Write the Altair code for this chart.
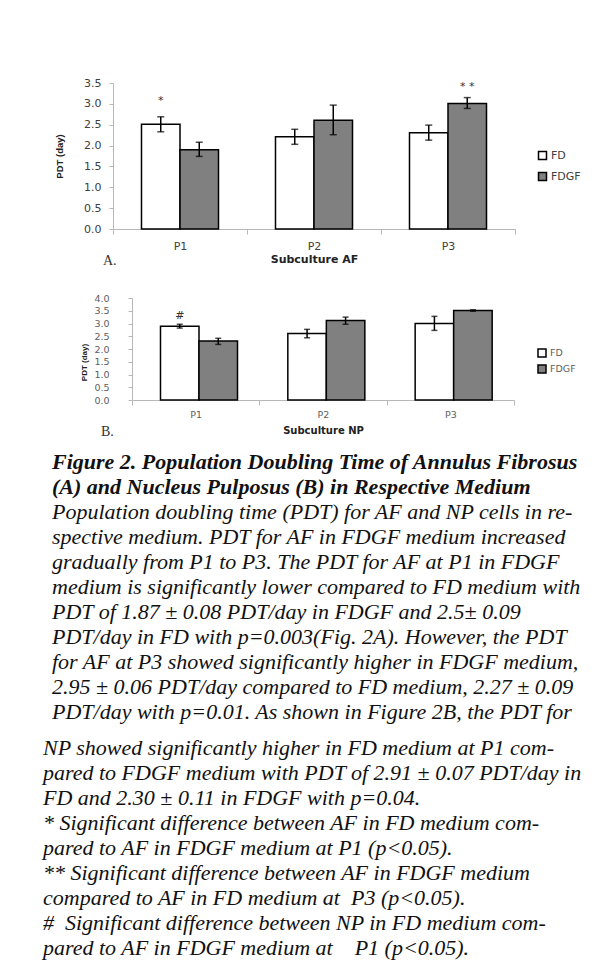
import altair as alt
import pandas as pd

# ---------------- data ----------------
passages = ["P1", "P2", "P3"]
media = ["FD", "FDGF"]

# Panel A: Annulus Fibrosus
af_fd = [2.51, 2.21, 2.31]
af_fd_lo = [2.33, 2.03, 2.13]
af_fd_hi = [2.69, 2.39, 2.49]
af_fdgf = [1.90, 2.61, 3.01]
af_fdgf_lo = [1.74, 2.26, 2.89]
af_fdgf_hi = [2.08, 2.97, 3.15]

# Panel B: Nucleus Pulposus
np_fd = [2.89, 2.61, 3.00]
np_fd_lo = [2.82, 2.44, 2.73]
np_fd_hi = [2.97, 2.77, 3.28]
np_fdgf = [2.31, 3.12, 3.51]
np_fdgf_lo = [2.18, 2.97, 3.48]
np_fdgf_hi = [2.42, 3.25, 3.54]

# significance marks: passage, medium, label, value-level
af_marks = [("P1", "FD", "*", 3.07), ("P3", "FDGF", "* *", 3.41)]
np_marks = [("P1", "FD", "#", 3.28)]

a_ticks = [0.0, 0.5, 1.0, 1.5, 2.0, 2.5, 3.0, 3.5]
b_ticks = [0.0, 0.5, 1.0, 1.5, 2.0, 2.5, 3.0, 3.5, 4.0]

NB = "\u00a0"
caption_title = [
    "Figure 2. Population Doubling Time of Annulus Fibrosus",
    "(A) and Nucleus Pulposus (B) in Respective Medium",
]
caption_body1 = [
    "Population doubling time (PDT) for AF and NP cells in re-",
    "spective medium. PDT for AF in FDGF medium increased",
    "gradually from P1 to P3. The PDT for AF at P1 in FDGF",
    "medium is significantly lower compared to FD medium with",
    "PDT of 1.87 \u00b1 0.08 PDT/day in FDGF and 2.5\u00b1 0.09",
    "PDT/day in FD with p=0.003(Fig. 2A). However, the PDT",
    "for AF at P3 showed significantly higher in FDGF medium,",
    "2.95 \u00b1 0.06 PDT/day compared to FD medium, 2.27 \u00b1 0.09",
    "PDT/day with p=0.01. As shown in Figure 2B, the PDT for",
]
caption_body2 = [
    "NP showed significantly higher in FD medium at P1 com-",
    "pared to FDGF medium with PDT of 2.91 \u00b1 0.07 PDT/day in",
    "FD and 2.30 \u00b1 0.11 in FDGF with p=0.04.",
    "* Significant difference between AF in FD medium com-",
    "pared to AF in FDGF medium at P1 (p<0.05).",
    "**" + NB + "Significant difference between AF in FDGF medium",
    "compared to AF in FD medium at" + NB + NB + "P3 (p<0.05).",
    "#" + NB + NB + "Significant difference between NP in FD medium com-",
    "pared to AF in FDGF medium at" + NB * 4 + "P1 (p<0.05).",
]


def make_df(fd, fd_lo, fd_hi, fdgf, fdgf_lo, fdgf_hi):
    rows = []
    for i, p in enumerate(passages):
        rows.append({"passage": p, "medium": "FD", "value": fd[i], "lo": fd_lo[i], "hi": fd_hi[i]})
        rows.append({"passage": p, "medium": "FDGF", "value": fdgf[i], "lo": fdgf_lo[i], "hi": fdgf_hi[i]})
    return pd.DataFrame(rows)


def panel(df, marks, ymax, ticks, w, h, xrange, yoffset, xtitle, letter, letter_xy, leg_xy,
          lab_font, lab_color, lab_pad, ytitle_size, ytitle_pad, ytitle_y,
          xlab_pad, xtitle_size, xtitle_pad, leg_rowpad, leg_font, cap):
    x = alt.X("passage:N", sort=passages,
              scale=alt.Scale(paddingInner=0, paddingOuter=0, range=xrange),
              axis=alt.Axis(title=xtitle, tickBand="extent", labelAngle=0,
                            labelFont="DejaVu Sans", labelFontSize=lab_font,
                            labelColor=lab_color, labelPadding=xlab_pad,
                            tickSize=5, tickColor="#b8b8b8", domainColor="#b8b8b8",
                            titleFont="DejaVu Sans", titleFontWeight="bold",
                            titleFontSize=xtitle_size, titleColor="#222222",
                            titlePadding=xtitle_pad))
    xo = alt.XOffset("medium:N", sort=media,
                     scale=alt.Scale(paddingInner=0, paddingOuter=0.74))
    yaxis_kw = dict(values=ticks, format=".1f", grid=False,
                    labelFont="DejaVu Sans", labelFontSize=lab_font,
                    labelColor=lab_color, labelPadding=lab_pad,
                    tickSize=4, tickColor="#b8b8b8", domainColor="#b8b8b8",
                    titleFont="Liberation Sans", titleFontWeight="bold",
                    titleFontSize=ytitle_size, titleColor="#222222",
                    titlePadding=ytitle_pad)
    if ytitle_y is not None:
        yaxis_kw["titleY"] = ytitle_y
    if yoffset:
        yaxis_kw["offset"] = yoffset
    yscale = alt.Scale(domain=[0, ymax], nice=False)

    def Y(field):
        return alt.Y(field, scale=yscale, title="PDT (day)", axis=alt.Axis(**yaxis_kw))

    base = alt.Chart(df)
    bars = base.mark_bar(stroke="black", strokeWidth=1.5).encode(
        x=x, xOffset=xo, y=Y("value:Q"),
        color=alt.Color("medium:N",
                        scale=alt.Scale(domain=media, range=["#ffffff", "#808080"]),
                        legend=alt.Legend(title=None, orient="none",
                                          legendX=leg_xy[0], legendY=leg_xy[1],
                                          symbolType="square", symbolSize=64,
                                          symbolStrokeColor="black",
                                          symbolStrokeWidth=1.5,
                                          labelFont="DejaVu Sans",
                                          labelFontSize=leg_font,
                                          labelColor=lab_color,
                                          rowPadding=leg_rowpad, padding=0,
                                          labelOffset=3)))
    rule = base.mark_rule(color="black", strokeWidth=1.5).encode(
        x=x, xOffset=xo, y=Y("lo:Q"), y2="hi:Q")
    cap_lo = base.mark_tick(orient="horizontal", size=cap, thickness=1.5,
                            color="black").encode(x=x, xOffset=xo, y=Y("lo:Q"))
    cap_hi = base.mark_tick(orient="horizontal", size=cap, thickness=1.5,
                            color="black").encode(x=x, xOffset=xo, y=Y("hi:Q"))
    mdf = pd.DataFrame(marks, columns=["passage", "medium", "label", "level"])
    ann = alt.Chart(mdf).mark_text(font="DejaVu Sans", fontSize=11,
                                   color="#333333", baseline="middle").encode(
        x=x, xOffset=xo, y=Y("level:Q"), text="label:N")
    let = alt.Chart(pd.DataFrame({"t": [letter]})).mark_text(
        font="Liberation Serif", fontSize=14, color="#333333",
        align="left", baseline="middle").encode(
        x=alt.value(letter_xy[0]), y=alt.value(letter_xy[1]), text="t:N")
    return alt.layer(bars, rule, cap_lo, cap_hi, ann, let).properties(width=w, height=h)


dfA = make_df(af_fd, af_fd_lo, af_fd_hi, af_fdgf, af_fdgf_lo, af_fdgf_hi)
dfB = make_df(np_fd, np_fd_lo, np_fd_hi, np_fdgf, np_fdgf_lo, np_fdgf_hi)

chartA = panel(dfA, af_marks, 3.5, a_ticks, 402, 146, [0, 402], 0,
               "Subculture AF", "A.",
               (-10, 178), (424, 67), 11, "#404040", 8, 9.5, 19, None,
               6, 11, 2, 6, 11, 7)
chartB = panel(dfB, np_marks, 4.0, b_ticks, 401, 102, [19, 401], -19,
               "Subculture NP", "B.",
               (-12, 134), (424, 50), 9.5, "#606060", 19, 8, 5, 64,
               4, 10, 7, 2, 9.5, 6)

# ---------------- caption text ----------------
ORIGIN_Y = 468  # top of text cell (absolute)
X0 = 113
rows = []
for i, t in enumerate(caption_title):
    rows.append({"text": t, "kind": "title", "px": 52 - X0, "py": 461 + 25 * i - ORIGIN_Y})
for i, t in enumerate(caption_body1):
    rows.append({"text": t, "kind": "body", "px": 52 - X0, "py": 511 + 25 * i - ORIGIN_Y})
for i, t in enumerate(caption_body2):
    rows.append({"text": t, "kind": "body", "px": 43 - X0, "py": 747 + 25 * i - ORIGIN_Y})
cap_df = pd.DataFrame(rows)

tbase = alt.Chart(cap_df)
tx = alt.X("px:Q", scale=None, axis=None)
ty = alt.Y("py:Q", scale=None, axis=None)
t_title = tbase.transform_filter(alt.datum.kind == "title").mark_text(
    font="Liberation Serif", fontSize=22, fontWeight="bold", fontStyle="italic",
    align="left", baseline="middle", color="#111111").encode(x=tx, y=ty, text="text:N")
t_body = tbase.transform_filter(alt.datum.kind == "body").mark_text(
    font="Liberation Serif", fontSize=22, fontStyle="italic",
    align="left", baseline="middle", color="#111111").encode(x=tx, y=ty, text="text:N")
textchart = alt.layer(t_title, t_body).properties(width=402, height=470)

chart = alt.vconcat(chartA, chartB, textchart, spacing=69, bounds="flush").resolve_scale(
    color="independent").properties(
    padding={"top": 69, "left": 35, "right": 5, "bottom": 5}
).configure_view(stroke=None)

chart.save("out.html", embed_options={"renderer": "svg", "actions": False})
